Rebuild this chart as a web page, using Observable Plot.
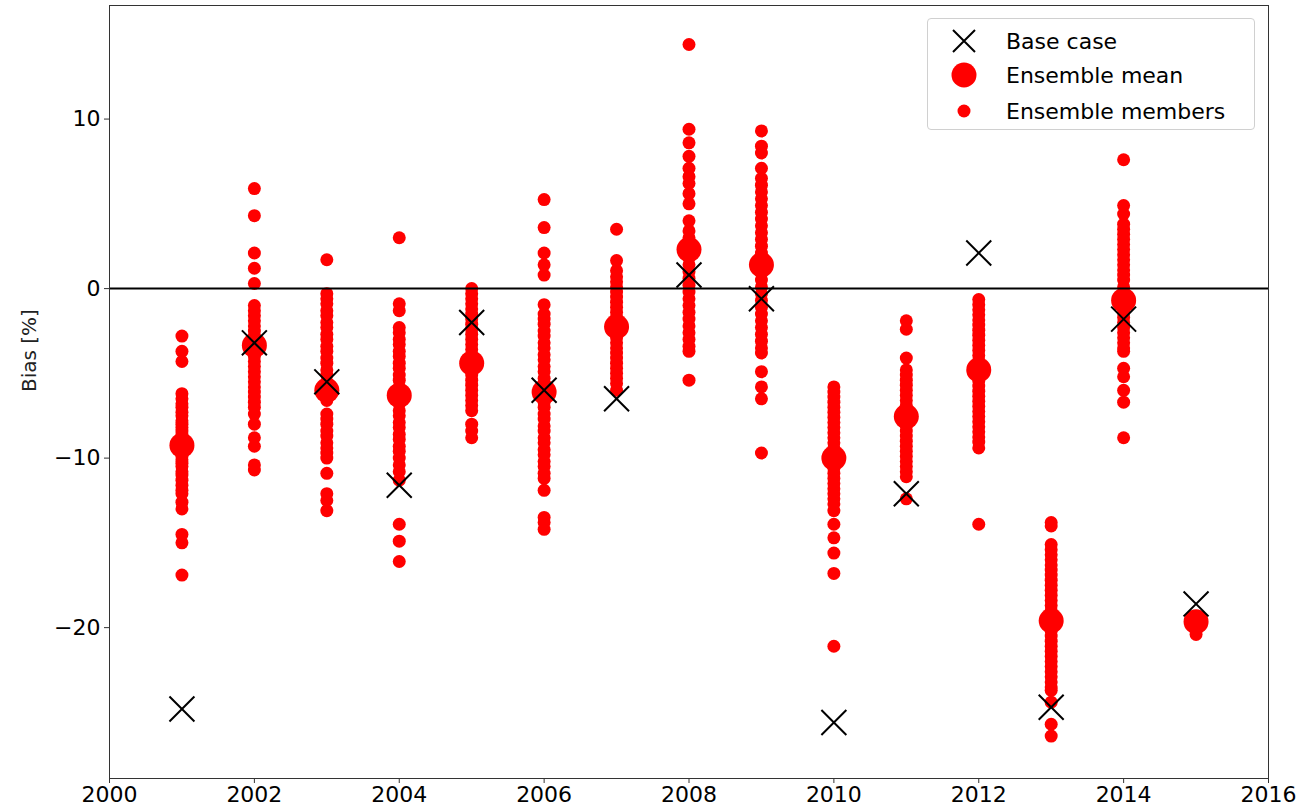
<!DOCTYPE html>
<html>
<head>
<meta charset="utf-8">
<script src="https://cdn.jsdelivr.net/npm/d3@7"></script>
<script src="https://cdn.jsdelivr.net/npm/@observablehq/plot@0.6"></script>
<style>
  html, body { margin: 0; padding: 0; background: #fff; }
  #wrap { position: relative; width: 1304px; height: 812px; font-family: "DejaVu Sans", sans-serif; }
  #legend { position: absolute; left: 927px; top: 18px; width: 328px; height: 112px; box-sizing: border-box;
            border: 1px solid #d0d0d0; border-radius: 4px; background: rgba(255,255,255,0.85); }
  .row { position: absolute; left: 0; height: 30px; display: flex; align-items: center; }
  .sym { width: 72px; display: flex; justify-content: center; }
  .lab { font-size: 22px; color: #000; margin-left: 6px; }
</style>
</head>
<body>
<div id="wrap"></div>
<script>
const years = [2001, 2002, 2003, 2004, 2005, 2006, 2007, 2008, 2009, 2010, 2011, 2012, 2013, 2014, 2015];
const baseCase = [-24.8, -3.2, -5.5, -11.6, -2.0, -6.0, -6.5, 0.8, -0.6, -25.6, -12.1, 2.1, -24.7, -1.8, -18.6];
const ensembleMean = [-9.25, -3.35, -6.0, -6.3, -4.4, -6.1, -2.25, 2.3, 1.4, -10.0, -7.55, -4.8, -19.6, -0.7, -19.65];
const ensembleMembers = [
  [-2.8, -3.7, -4.3, -6.2, -6.5, -6.8, -7.0, -7.3, -7.5, -7.8, -8.0, -8.2, -8.4, -8.6, -8.8, -9.0, -9.3, -9.5, -9.7, -9.9, -10.1, -10.3, -10.5, -10.8, -11.0, -11.3, -11.6, -11.9, -12.1, -12.6, -13.0, -14.5, -15.0, -16.9],
  [5.9, 4.3, 2.1, 1.2, 0.3, -1.0, -1.3, -1.6, -1.9, -2.2, -2.5, -2.8, -3.1, -3.4, -3.7, -4.0, -4.3, -4.6, -4.9, -5.2, -5.5, -5.8, -6.1, -6.4, -6.7, -7.0, -7.4, -8.0, -8.8, -9.3, -10.4, -10.7],
  [1.7, -0.3, -0.6, -0.9, -1.3, -1.6, -2.0, -2.3, -2.7, -3.0, -3.4, -3.7, -4.1, -4.4, -4.8, -5.1, -5.5, -5.8, -6.2, -6.6, -7.4, -7.7, -8.0, -8.4, -8.7, -9.1, -9.4, -9.7, -10.0, -10.9, -12.1, -12.5, -13.1],
  [3.0, -0.9, -1.3, -2.3, -2.6, -3.0, -3.3, -3.7, -4.0, -4.4, -4.7, -5.1, -5.4, -5.8, -6.1, -6.5, -6.8, -7.2, -7.5, -7.9, -8.2, -8.6, -8.9, -9.3, -9.6, -10.0, -10.4, -10.8, -11.3, -13.9, -14.9, -16.1],
  [0.0, -0.3, -0.6, -0.9, -1.2, -1.5, -1.8, -2.1, -2.4, -2.7, -3.0, -3.3, -3.6, -3.9, -4.2, -4.5, -4.8, -5.1, -5.4, -5.7, -6.0, -6.3, -6.6, -6.9, -7.2, -8.0, -8.4, -8.8],
  [5.25, 3.6, 2.1, 1.4, 0.8, -0.95, -1.5, -1.8, -2.1, -2.5, -2.8, -3.2, -3.5, -3.9, -4.2, -4.6, -4.9, -5.3, -5.6, -6.0, -6.3, -6.7, -7.0, -7.4, -7.7, -8.1, -8.4, -8.8, -9.1, -9.5, -9.8, -10.2, -10.5, -10.9, -11.2, -11.9, -13.5, -13.8, -14.2],
  [3.5, 1.65, 1.06, 0.7, 0.4, 0.1, -0.2, -0.5, -0.8, -1.1, -1.4, -1.7, -2.0, -2.3, -2.6, -2.9, -3.2, -3.5, -3.8, -4.1, -4.4, -4.7, -5.0, -5.3, -5.6, -6.0],
  [14.4, 9.4, 8.6, 7.8, 7.1, 6.6, 6.2, 5.6, 5.0, 4.0, 3.4, 3.0, 2.6, 2.2, 1.8, 1.4, 1.0, 0.6, 0.2, -0.2, -0.6, -1.0, -1.4, -1.8, -2.2, -2.6, -3.0, -3.4, -3.7, -5.4],
  [9.3, 8.4, 8.0, 7.1, 6.5, 6.1, 5.7, 5.3, 4.9, 4.5, 4.1, 3.7, 3.3, 2.9, 2.5, 2.1, 1.7, 1.3, 0.9, 0.5, 0.1, -0.3, -0.7, -1.1, -1.5, -1.9, -2.3, -2.7, -3.1, -3.5, -3.8, -4.9, -5.8, -6.5, -9.7],
  [-5.8, -6.1, -6.4, -6.7, -7.0, -7.3, -7.6, -7.9, -8.2, -8.5, -8.8, -9.1, -9.4, -9.7, -10.0, -10.3, -10.6, -10.9, -11.2, -11.5, -11.8, -12.1, -12.4, -12.7, -13.1, -13.9, -14.7, -15.6, -16.8, -21.1],
  [-1.9, -2.4, -4.1, -4.8, -5.1, -5.4, -5.7, -6.0, -6.3, -6.6, -6.9, -7.2, -7.5, -7.8, -8.1, -8.4, -8.7, -9.0, -9.3, -9.6, -9.9, -10.2, -10.5, -10.8, -11.1, -12.4],
  [-0.65, -0.95, -1.25, -1.55, -1.85, -2.15, -2.45, -2.75, -3.05, -3.35, -3.65, -3.95, -4.25, -4.55, -4.85, -5.15, -5.45, -5.75, -6.05, -6.35, -6.65, -6.95, -7.25, -7.55, -7.85, -8.15, -8.45, -8.75, -9.05, -9.4, -13.9],
  [-13.8, -14.0, -15.1, -15.4, -15.7, -16.0, -16.3, -16.6, -16.9, -17.2, -17.5, -17.8, -18.1, -18.4, -18.7, -19.0, -19.3, -19.6, -19.9, -20.2, -20.5, -20.8, -21.1, -21.4, -21.7, -22.0, -22.3, -22.6, -22.9, -23.2, -23.5, -23.7, -24.4, -25.7, -26.4],
  [7.6, 4.9, 4.4, 3.8, 3.5, 3.2, 2.9, 2.6, 2.3, 2.0, 1.7, 1.4, 1.1, 0.8, 0.5, 0.1, -0.2, -0.5, -0.8, -1.1, -1.4, -1.7, -2.0, -2.3, -2.6, -2.9, -3.2, -3.5, -3.7, -4.7, -5.2, -6.0, -6.7, -8.8],
  [-19.4, -19.7, -20.1, -20.4]
];
const xTicks = [2000, 2002, 2004, 2006, 2008, 2010, 2012, 2014, 2016];
const yTicks = [-20, -10, 0, 10];
const yLabel = "Bias [%]";
const legendLabels = ["Base case", "Ensemble mean", "Ensemble members"];

const memberRows = years.flatMap((yr, i) => ensembleMembers[i].map(v => ({year: yr, value: v})));
const meanRows = years.map((yr, i) => ({year: yr, value: ensembleMean[i]}));
const baseRows = years.map((yr, i) => ({year: yr, value: baseCase[i]}));

const chart = Plot.plot({
  width: 1304,
  height: 812,
  marginLeft: 109,
  marginRight: 36,
  marginTop: 5,
  marginBottom: 34,
  style: {fontFamily: "DejaVu Sans, sans-serif", background: "white", color: "black"},
  x: {domain: [2000, 2016]},
  y: {domain: [-28.9, 16.7]},
  marks: [
    Plot.axisX({ticks: xTicks, tickFormat: d => String(d), tickSize: 5, tickPadding: 3, fontSize: 22, label: null, stroke: "#333"}),
    Plot.axisY({ticks: yTicks, tickFormat: d => (d < 0 ? "\u2212" + Math.abs(d) : String(d)), tickSize: 5, tickPadding: 4, fontSize: 22, label: null, stroke: "#333"}),
    Plot.text([yLabel], {frameAnchor: "left", dx: -80, rotate: -90, fontSize: 20, fill: "#222"}),
    Plot.dot(memberRows, {x: "year", y: "value", r: 6.5, fill: "#ff0000"}),
    Plot.dot(meanRows, {x: "year", y: "value", r: 12.5, fill: "#ff0000"}),
    Plot.ruleY([0], {stroke: "black", strokeWidth: 2}),
    Plot.dot(baseRows, {x: "year", y: "value", r: 11.4, symbol: "times", stroke: "black", strokeWidth: 2}),
    Plot.frame({stroke: "#333", strokeWidth: 1})
  ]
});

const wrap = document.getElementById("wrap");
wrap.appendChild(chart);

const legend = document.createElement("div");
legend.id = "legend";
const syms = [
  '<svg width="30" height="30"><path d="M4,4L26,26M26,4L4,26" stroke="black" stroke-width="2" fill="none"/></svg>',
  '<svg width="30" height="30"><circle cx="15" cy="15" r="12.5" fill="#ff0000"/></svg>',
  '<svg width="30" height="30"><circle cx="15" cy="15" r="6.5" fill="#ff0000"/></svg>'
];
const tops = [7, 41, 77];
legendLabels.forEach((lab, i) => {
  const row = document.createElement("div");
  row.className = "row";
  row.style.top = tops[i] + "px";
  row.innerHTML = '<div class="sym">' + syms[i] + '</div><div class="lab">' + lab + '</div>';
  legend.appendChild(row);
});
wrap.appendChild(legend);
</script>
</body>
</html>
